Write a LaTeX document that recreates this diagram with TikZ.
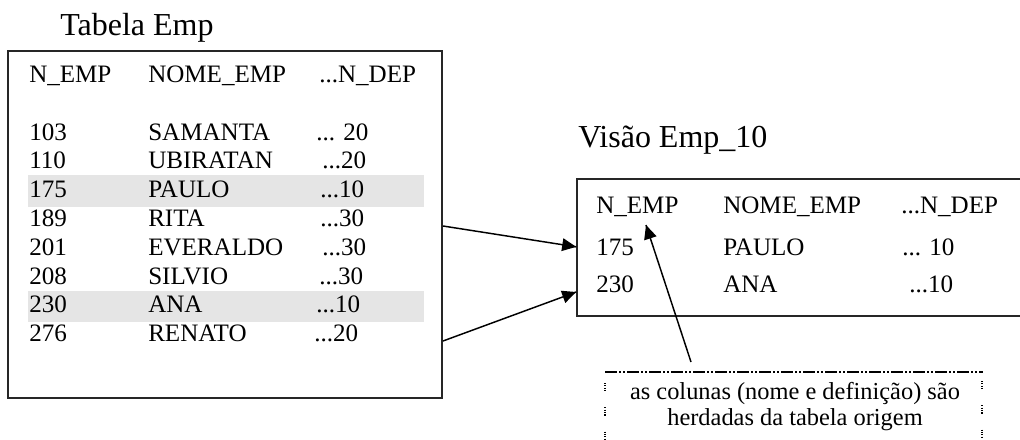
\documentclass[tikz,border=0pt]{standalone}
\usepackage{fontspec}
\setmainfont{Liberation Serif}
\usetikzlibrary{arrows.meta}
\usetikzlibrary{decorations.markings}
\usetikzlibrary{positioning}
\tikzset{->/.style = {decoration={markings,
                                  mark=at position 1 with {\arrow{Triangle[length=10.5pt,width=9.5pt]}}},
                      postaction={decorate}}}
\tikzset{cel/.style = {anchor=base west, inner sep=0, font=\fontsize{18.8}{22}\selectfont}}
\tikzset{titel/.style = {anchor=base west, inner sep=0, font=\fontsize{24}{28}\selectfont}}
\tikzset{nota/.style = {anchor=base, inner sep=0, font=\fontsize{18.3}{22}\selectfont}}
\tikzset{caixa/.style = {draw, rectangle, inner sep=0}}
\tikzset{destaque/.style = {fill=black!10}}

\begin{document}
\begin{tikzpicture}[x=0.75pt, y=-0.75pt]
      \useasboundingbox (0, 0) rectangle (1020, 439);
      \clip (0, 0) rectangle (1020, 439);

      \node [titel] (tTabela) at (60, 35) {Tabela Emp};
      \node [caixa, line width=1.5pt, draw=black!85, minimum width=325.5pt, minimum height=260.25pt] (tabela) at (225, 224.5) {};
      \fill [destaque] (28, 175) rectangle (424, 207);
      \fill [destaque] (28, 291) rectangle (424, 322);

      \node [cel] (hEmp) at (29, 82) {N\_EMP};
      \node [cel] (hNome) at (148, 82) {NOME\_EMP};
      \node [cel] (hDep) at (319, 82) {...N\_DEP};

      \node [cel] (e103) at (29, 140) {103};
      \node [cel] (n103) at (148, 140) {SAMANTA};
      \node [cel] (d103) at (316, 140) {... 20};
      \node [cel] (e110) at (29, 168.5) {110};
      \node [cel] (n110) at (148, 168.5) {UBIRATAN};
      \node [cel] (d110) at (322, 168.5) {...20};
      \node [cel] (e175) at (29, 197) {175};
      \node [cel] (n175) at (148, 197) {PAULO};
      \node [cel] (d175) at (320, 197) {...10};
      \node [cel] (e189) at (29, 226) {189};
      \node [cel] (n189) at (148, 226) {RITA};
      \node [cel] (d189) at (320, 226) {...30};
      \node [cel] (e201) at (29, 255) {201};
      \node [cel] (n201) at (148, 255) {EVERALDO};
      \node [cel] (d201) at (322, 255) {...30};
      \node [cel] (e208) at (29, 284) {208};
      \node [cel] (n208) at (148, 284) {SILVIO};
      \node [cel] (d208) at (319, 284) {...30};
      \node [cel] (e230) at (29, 312) {230};
      \node [cel] (n230) at (148, 312) {ANA};
      \node [cel] (d230) at (316, 312) {...10};
      \node [cel] (e276) at (29, 341) {276};
      \node [cel] (n276) at (148, 341) {RENATO};
      \node [cel] (d276) at (314, 341) {...20};

      \node [titel] (tVisao) at (578, 147) {Visão Emp\_10};
      \node [caixa, line width=1.2pt, draw=black!85, minimum width=339.75pt, minimum height=102.75pt] (visao) at (803.5, 247.5) {};
      \node [cel] (vEmp) at (596, 213) {N\_EMP};
      \node [cel] (vNome) at (723, 213) {NOME\_EMP};
      \node [cel] (vDep) at (901, 213) {...N\_DEP};
      \node [cel] (v175) at (596, 255) {175};
      \node [cel] (vn175) at (723, 255) {PAULO};
      \node [cel] (vd175) at (902, 255) {... 10};
      \node [cel] (v230) at (596, 292) {230};
      \node [cel] (vn230) at (723, 292) {ANA};
      \node [cel] (vd230) at (909, 292) {...10};

      \draw [->, line width=1.1pt] (tabela.east |- e189.base) -- (visao.west |- v175);
      \draw [->, line width=1.1pt] (tabela.east |- e276.base) -- (visao.west |- v230.base);

      % nota
      \draw [line width=1.6pt, dash pattern=on 9pt off 1.5pt on 1.5pt off 1.5pt on 1.5pt off 1.5pt] (605, 372) -- (983, 372);
      \draw [line width=0.8pt, dash pattern=on 0.8pt off 1pt on 0.8pt off 1pt on 0.8pt off 1pt on 0.8pt off 12pt] (605, 383) -- (605, 445);
      \draw [line width=0.8pt, dash pattern=on 0.8pt off 1pt on 0.8pt off 1pt on 0.8pt off 1pt on 0.8pt off 12pt] (982, 381) -- (982, 445);
      \node [nota] (nota1) at (795, 399) {as colunas (nome e definição) são};
      \node [nota] (nota2) at (795, 425) {herdadas da tabela origem};
      \coordinate (pNota) at (691, 362);
      \coordinate (pEmp) at (646, 225);
      \draw [->, line width=1.1pt] (pNota) -- (pEmp);
\end{tikzpicture}
\end{document}
